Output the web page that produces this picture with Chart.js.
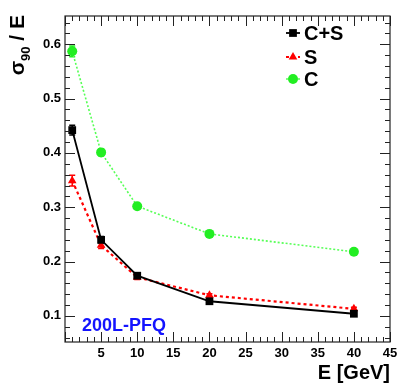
<!DOCTYPE html>
<html>
<head>
<meta charset="utf-8">
<script src="https://cdn.jsdelivr.net/npm/chart.js@4.4.1/dist/chart.umd.min.js"></script>
<style>
	html, body { margin: 0; padding: 0; background: #fff; }
</style>
</head>
<body>
<canvas id="chart" width="407" height="390"></canvas>
<script>
// beam energy in GeV
var energies = [1, 5, 10, 20, 40];

// sigma90 / E for each readout
var resCS = [0.442, 0.240, 0.174, 0.127, 0.104];
var resS  = [0.349, 0.230, 0.171, 0.138, 0.113];
var resC  = [0.587, 0.401, 0.302, 0.251, 0.218];

// statistical errors
var errCS = [0.009, 0.006, 0.004, 0.003, 0.003];
var errS  = [0.010, 0.006, 0.004, 0.003, 0.003];
var errC  = [0.010, 0.006, 0.004, 0.003, 0.003];

var seriesNames = ["C+S", "S", "C"];
var xTickValues = [5, 10, 15, 20, 25, 30, 35, 40, 45];
var yTickValues = [0.1, 0.2, 0.3, 0.4, 0.5, 0.6];

var FONT = "'Liberation Sans', Arial, Helvetica, sans-serif";

function points(ys) {
	return energies.map(function (e, i) { return {x: e, y: ys[i]}; });
}

var datasets = [
	{
		label: seriesNames[0], data: points(resCS), err: errCS,
		borderColor: "#000", backgroundColor: "#000", borderWidth: 1.8,
		pointStyle: "rect", pointRadius: 5.5, pointBorderWidth: 0
	},
	{
		label: seriesNames[1], data: points(resS), err: errS,
		borderColor: "#ff0000", backgroundColor: "#ff0000", borderWidth: 2.2, borderDash: [3, 3],
		pointStyle: "triangle", pointRadius: 5, pointBorderWidth: 0
	},
	{
		label: seriesNames[2], data: points(resC), err: errC,
		borderColor: "#55ff55", backgroundColor: "#22ee22", borderWidth: 1.6, borderDash: [2, 2],
		pointStyle: "circle", pointRadius: 5, pointBorderWidth: 0
	}
];

function setTicks(values) {
	return function (s) {
		s.ticks = values.map(function (v) { return {value: v}; });
	};
}

/* ROOT-like frame, inward ticks, error bars and free texts */
var rootStyle = {
	id: "rootStyle",
	beforeDatasetsDraw: function (chart) {
		var ctx = chart.ctx, xs = chart.scales.x, ys = chart.scales.y;
		ctx.save();
		chart.data.datasets.forEach(function (ds) {
			ctx.strokeStyle = ds.backgroundColor;
			ctx.lineWidth = 1.5;
			ds.data.forEach(function (p, i) {
				var px = xs.getPixelForValue(p.x);
				var y1 = ys.getPixelForValue(p.y + ds.err[i]);
				var y2 = ys.getPixelForValue(p.y - ds.err[i]);
				ctx.beginPath();
				ctx.moveTo(px, y1); ctx.lineTo(px, y2);
				ctx.moveTo(px - 3, y1); ctx.lineTo(px + 3, y1);
				ctx.moveTo(px - 3, y2); ctx.lineTo(px + 3, y2);
				ctx.stroke();
			});
		});
		ctx.restore();
	},
	afterDraw: function (chart) {
		var ctx = chart.ctx, a = chart.chartArea;
		var xs = chart.scales.x, ys = chart.scales.y;
		ctx.save();

		// frame
		ctx.strokeStyle = "#222";
		ctx.lineWidth = 1.2;
		ctx.strokeRect(a.left, a.top, a.right - a.left, a.bottom - a.top);

		// x ticks (bottom and top), minor every 1
		ctx.beginPath();
		for (var v = Math.ceil(xs.min); v <= xs.max + 1e-9; v += 1) {
			var px = Math.round(xs.getPixelForValue(v)) + 0.5;
			var len = (v % 5 === 0) ? 10 : 5;
			ctx.moveTo(px, a.bottom); ctx.lineTo(px, a.bottom - len);
			ctx.moveTo(px, a.top); ctx.lineTo(px, a.top + len);
		}
		// y ticks (left and right), minor every 0.02
		for (var k = Math.ceil(ys.min / 0.02); k * 0.02 <= ys.max + 1e-9; k++) {
			var py = Math.round(ys.getPixelForValue(k * 0.02)) + 0.5;
			var ylen = (k % 5 === 0) ? 10 : 5;
			ctx.moveTo(a.left, py); ctx.lineTo(a.left + ylen, py);
			ctx.moveTo(a.right, py); ctx.lineTo(a.right - ylen, py);
		}
		ctx.lineWidth = 1;
		ctx.stroke();

		// x axis title
		ctx.fillStyle = "#000";
		ctx.font = "bold 20px " + FONT;
		ctx.textAlign = "right";
		ctx.textBaseline = "alphabetic";
		ctx.fillText("E [GeV]", a.right, 379);

		// y axis title: sigma_90 / E, rotated
		ctx.save();
		var big = "bold 21px " + FONT, small = "bold 13px " + FONT;
		ctx.font = big; var w1 = ctx.measureText("\u03c3").width;
		ctx.font = small; var w2 = ctx.measureText("90").width;
		ctx.font = big; var w3 = ctx.measureText(" / E").width;
		ctx.translate(24, 15 + w1 + w2 + w3);
		ctx.rotate(-Math.PI / 2);
		ctx.textAlign = "left";
		ctx.font = big; ctx.fillText("\u03c3", 0, 0);
		ctx.font = small; ctx.fillText("90", w1, 6);
		ctx.font = big; ctx.fillText(" / E", w1 + w2, 0);
		ctx.restore();

		// legend
		var rows = [33, 57, 79];
		chart.data.datasets.forEach(function (ds, i) {
			var cy = rows[i], cx = 293;
			ctx.save();
			ctx.strokeStyle = ds.borderColor;
			ctx.lineWidth = ds.borderWidth;
			ctx.setLineDash(ds.borderDash || []);
			ctx.beginPath(); ctx.moveTo(cx - 7, cy); ctx.lineTo(cx + 7, cy); ctx.stroke();
			ctx.restore();
			ctx.fillStyle = ds.backgroundColor;
			Chart.helpers.drawPoint(ctx, {pointStyle: ds.pointStyle, radius: ds.pointRadius, borderWidth: 0}, cx, cy);
			ctx.fillStyle = "#000";
			ctx.font = "bold 20px " + FONT;
			ctx.textAlign = "left";
			ctx.textBaseline = "middle";
			ctx.fillText(ds.label, 304, cy + 1);
		});

		// label
		ctx.fillStyle = "#1414ff";
		ctx.font = "bold 18px " + FONT;
		ctx.textAlign = "left";
		ctx.textBaseline = "alphabetic";
		ctx.fillText("200L-PFQ", 82, 331);

		ctx.restore();
	}
};

new Chart(document.getElementById("chart"), {
	type: "line",
	data: {datasets: datasets},
	options: {
		responsive: false,
		animation: false,
		devicePixelRatio: 1,
		layout: {padding: {top: 16, right: 17, left: 0, bottom: 0}},
		plugins: {legend: {display: false}, tooltip: {enabled: false}},
		elements: {line: {tension: 0}},
		scales: {
			x: {
				type: "linear", min: 0, max: 45, bounds: "data",
				grid: {display: false, drawTicks: false},
				border: {display: false},
				afterBuildTicks: setTicks(xTickValues),
				ticks: {
					padding: 4, color: "#000", autoSkip: false, maxRotation: 0,
					font: {family: FONT, weight: "bold", size: 13},
					callback: function (v) { return String(v); }
				},
				afterFit: function (s) { s.height = 48; }
			},
			y: {
				type: "linear", min: 0.052, max: 0.652, bounds: "data",
				grid: {display: false, drawTicks: false},
				border: {display: false},
				afterBuildTicks: setTicks(yTickValues),
				ticks: {
					padding: 4, color: "#000", autoSkip: false,
					font: {family: FONT, weight: "bold", size: 13},
					callback: function (v) { return v.toFixed(1); }
				},
				afterFit: function (s) { s.width = 65; }
			}
		}
	},
	plugins: [rootStyle]
});
</script>
</body>
</html>
